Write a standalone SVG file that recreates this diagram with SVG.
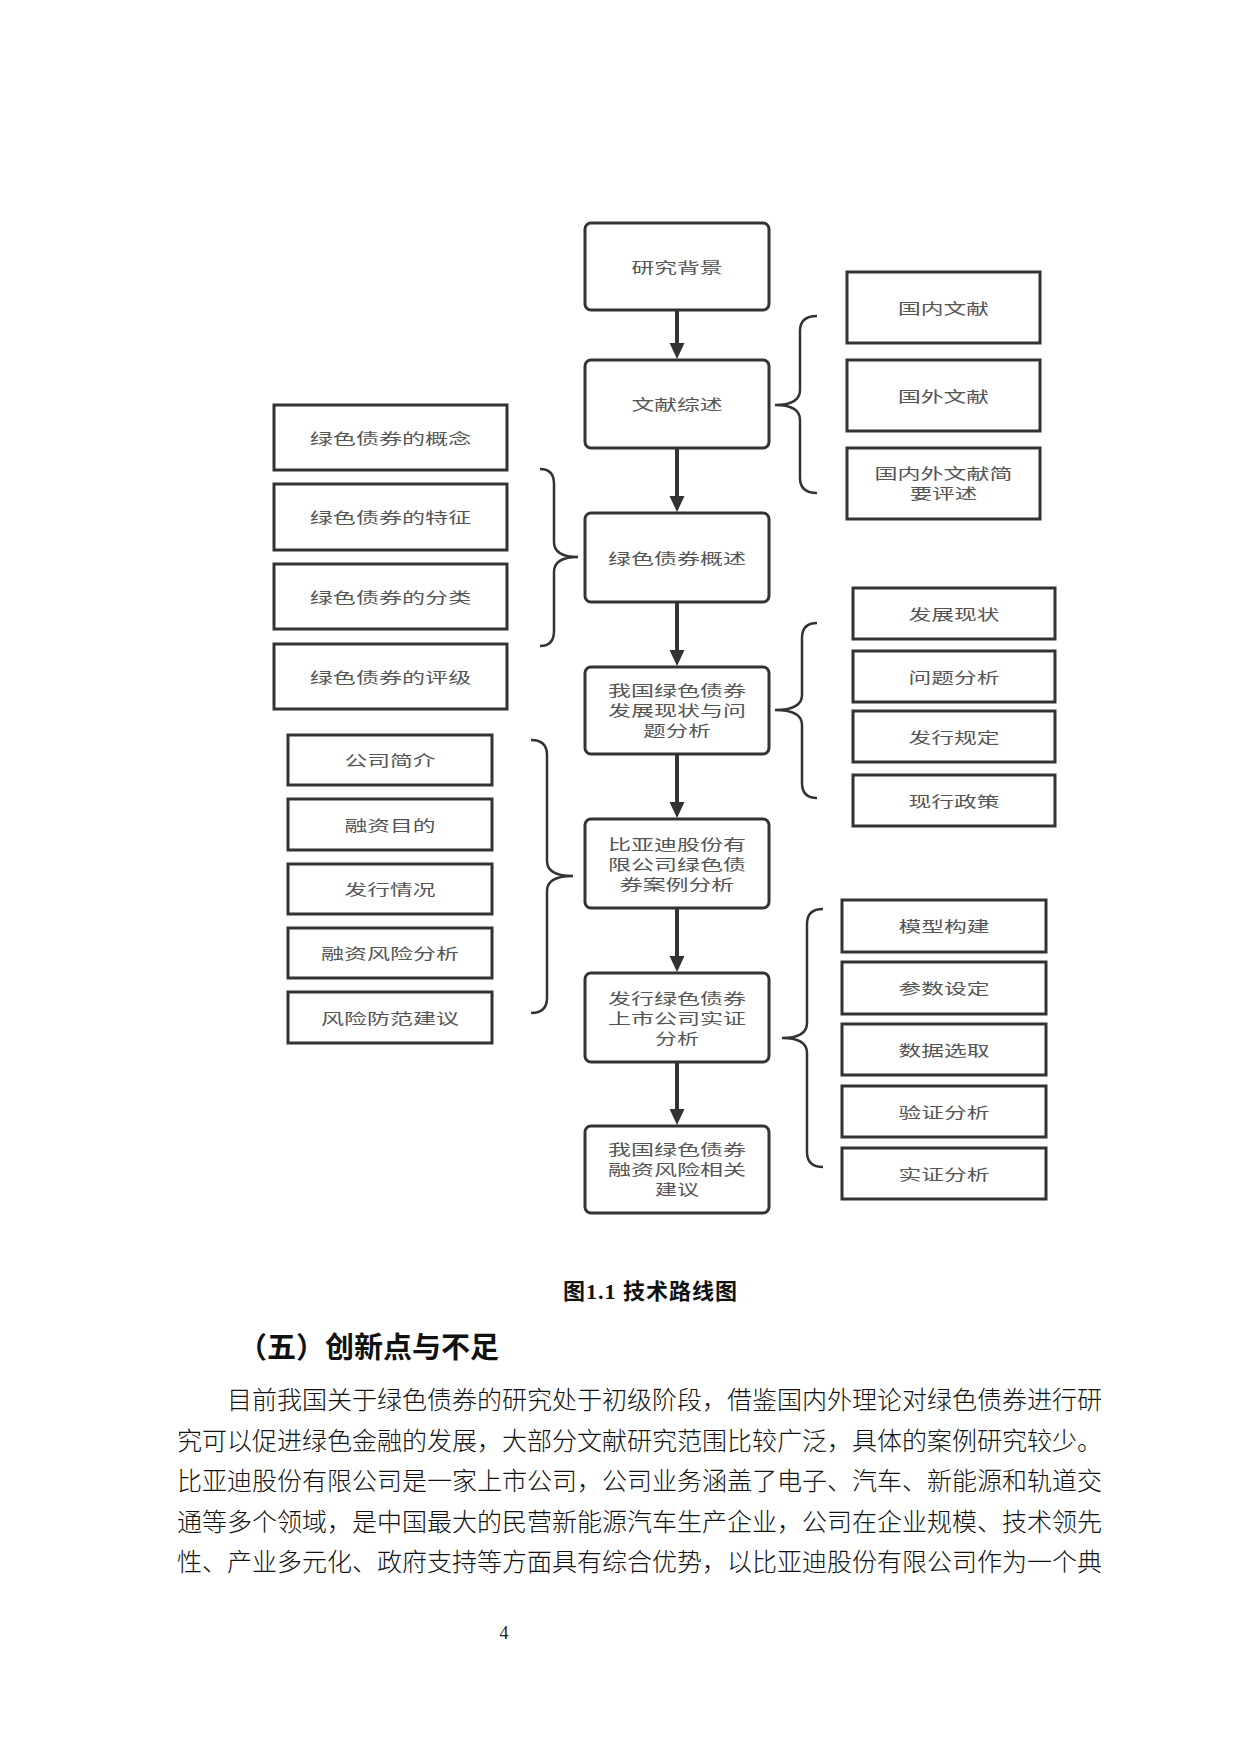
<svg xmlns="http://www.w3.org/2000/svg" width="1240" height="1754" viewBox="0 0 1240 1754">
<style>
.bg{fill:#ffffff}
.main{fill:#ffffff;stroke:#333333;stroke-width:3}
.side{fill:#ffffff;stroke:#333333;stroke-width:3}
.lbl{font-family:"Noto Sans CJK SC","Noto Sans",sans-serif;font-size:15px;fill:#555555;text-anchor:middle}
.arrow{stroke:#333333;stroke-width:4;fill:none}
.brace{stroke:#333333;stroke-width:2.5;fill:none}
.body{font-family:"Noto Sans CJK SC",sans-serif;font-size:25px;fill:#111111;font-weight:300}
.head{font-family:"Noto Sans CJK SC",sans-serif;font-size:29px;fill:#111111;font-weight:bold}
.cap{font-family:"Liberation Serif","Noto Sans CJK SC",serif;font-size:22px;fill:#111111;font-weight:bold;text-anchor:middle}
.pg{font-family:"Liberation Serif",serif;font-size:18px;fill:#222222;text-anchor:middle}
</style>
<defs>
<marker id="ah" viewBox="0 0 16 16" markerWidth="16" markerHeight="16" refX="6" refY="8" orient="auto" markerUnits="userSpaceOnUse">
<path d="M0,0.5 L16,8 L0,15.5 z" fill="#333333"/>
</marker>
</defs>
<rect class="bg" x="0" y="0" width="1240" height="1754"/>

<g id="connectors">
<line class="arrow" x1="677" y1="311" x2="677" y2="349" marker-end="url(#ah)"/>
<line class="arrow" x1="677" y1="449" x2="677" y2="502" marker-end="url(#ah)"/>
<line class="arrow" x1="677" y1="603" x2="677" y2="656" marker-end="url(#ah)"/>
<line class="arrow" x1="677" y1="755" x2="677" y2="808" marker-end="url(#ah)"/>
<line class="arrow" x1="677" y1="909" x2="677" y2="962" marker-end="url(#ah)"/>
<line class="arrow" x1="677" y1="1063" x2="677" y2="1115" marker-end="url(#ah)"/>
<path class="brace" d="M817,316 Q800,316 800,331 L800,390 Q800,405 775,405 Q800,405 800,420 L800,478 Q800,493 817,493"/>
<path class="brace" d="M540,469 Q554,469 554,484 L554,542 Q554,557 578,557 Q554,557 554,572 L554,631 Q554,646 540,646"/>
<path class="brace" d="M817,623 Q802,623 802,638 L802,695 Q802,710 775,710 Q802,710 802,725 L802,783 Q802,798 817,798"/>
<path class="brace" d="M531,740 Q547,740 547,755 L547,861 Q547,876 573,876 Q547,876 547,891 L547,998 Q547,1013 531,1013"/>
<path class="brace" d="M823,909 Q807,909 807,924 L807,1023 Q807,1038 782,1038 Q807,1038 807,1053 L807,1152 Q807,1167 823,1167"/>
</g>

<g id="n1"><rect class="main" x="585" y="223" width="184" height="87" rx="6"/><text class="lbl" x="677" y="272.5" textLength="91" lengthAdjust="spacingAndGlyphs">研究背景</text></g>
<g id="n2"><rect class="main" x="585" y="360" width="184" height="88" rx="6"/><text class="lbl" x="677" y="410" textLength="91" lengthAdjust="spacingAndGlyphs">文献综述</text></g>
<g id="n3"><rect class="main" x="585" y="513" width="184" height="89" rx="6"/><text class="lbl" x="677" y="563.5" textLength="138" lengthAdjust="spacingAndGlyphs">绿色债券概述</text></g>
<g id="n4"><rect class="main" x="585" y="667" width="184" height="87" rx="6"/>
<text class="lbl" x="677" y="696" textLength="138" lengthAdjust="spacingAndGlyphs">我国绿色债券</text>
<text class="lbl" x="677" y="716" textLength="138" lengthAdjust="spacingAndGlyphs">发展现状与问</text>
<text class="lbl" x="677" y="736" textLength="67.5" lengthAdjust="spacingAndGlyphs">题分析</text></g>
<g id="n5"><rect class="main" x="585" y="819" width="184" height="89" rx="6"/>
<text class="lbl" x="677" y="850" textLength="138" lengthAdjust="spacingAndGlyphs">比亚迪股份有</text>
<text class="lbl" x="677" y="870" textLength="138" lengthAdjust="spacingAndGlyphs">限公司绿色债</text>
<text class="lbl" x="677" y="890" textLength="114.5" lengthAdjust="spacingAndGlyphs">券案例分析</text></g>
<g id="n6"><rect class="main" x="585" y="973" width="184" height="89" rx="6"/>
<text class="lbl" x="677" y="1004" textLength="138" lengthAdjust="spacingAndGlyphs">发行绿色债券</text>
<text class="lbl" x="677" y="1024" textLength="138" lengthAdjust="spacingAndGlyphs">上市公司实证</text>
<text class="lbl" x="677" y="1044" textLength="44" lengthAdjust="spacingAndGlyphs">分析</text></g>
<g id="n7"><rect class="main" x="585" y="1126" width="184" height="87" rx="6"/>
<text class="lbl" x="677" y="1155" textLength="138" lengthAdjust="spacingAndGlyphs">我国绿色债券</text>
<text class="lbl" x="677" y="1175" textLength="138" lengthAdjust="spacingAndGlyphs">融资风险相关</text>
<text class="lbl" x="677" y="1195" textLength="44" lengthAdjust="spacingAndGlyphs">建议</text></g>

<g id="r1"><rect class="side" x="847" y="272" width="193" height="71"/><text class="lbl" x="943.5" y="313.5" textLength="91" lengthAdjust="spacingAndGlyphs">国内文献</text></g>
<g id="r2"><rect class="side" x="847" y="360" width="193" height="71"/><text class="lbl" x="943.5" y="401.5" textLength="91" lengthAdjust="spacingAndGlyphs">国外文献</text></g>
<g id="r3"><rect class="side" x="847" y="448" width="193" height="71"/>
<text class="lbl" x="943.5" y="479" textLength="138" lengthAdjust="spacingAndGlyphs">国内外文献简</text>
<text class="lbl" x="943.5" y="499" textLength="67.5" lengthAdjust="spacingAndGlyphs">要评述</text></g>

<g id="l1"><rect class="side" x="274" y="405" width="233" height="65"/><text class="lbl" x="390.5" y="443.5" textLength="161.5" lengthAdjust="spacingAndGlyphs">绿色债券的概念</text></g>
<g id="l2"><rect class="side" x="274" y="484" width="233" height="66"/><text class="lbl" x="390.5" y="523" textLength="161.5" lengthAdjust="spacingAndGlyphs">绿色债券的特征</text></g>
<g id="l3"><rect class="side" x="274" y="564" width="233" height="65"/><text class="lbl" x="390.5" y="602.5" textLength="161.5" lengthAdjust="spacingAndGlyphs">绿色债券的分类</text></g>
<g id="l4"><rect class="side" x="274" y="644" width="233" height="65"/><text class="lbl" x="390.5" y="682.5" textLength="161.5" lengthAdjust="spacingAndGlyphs">绿色债券的评级</text></g>

<g id="r4"><rect class="side" x="853" y="588" width="202" height="51"/><text class="lbl" x="954" y="619.5" textLength="91" lengthAdjust="spacingAndGlyphs">发展现状</text></g>
<g id="r5"><rect class="side" x="853" y="651" width="202" height="51"/><text class="lbl" x="954" y="682.5" textLength="91" lengthAdjust="spacingAndGlyphs">问题分析</text></g>
<g id="r6"><rect class="side" x="853" y="711" width="202" height="51"/><text class="lbl" x="954" y="742.5" textLength="91" lengthAdjust="spacingAndGlyphs">发行规定</text></g>
<g id="r7"><rect class="side" x="853" y="775" width="202" height="51"/><text class="lbl" x="954" y="806.5" textLength="91" lengthAdjust="spacingAndGlyphs">现行政策</text></g>

<g id="l5"><rect class="side" x="288" y="735" width="204" height="50"/><text class="lbl" x="390" y="766" textLength="91" lengthAdjust="spacingAndGlyphs">公司简介</text></g>
<g id="l6"><rect class="side" x="288" y="799" width="204" height="51"/><text class="lbl" x="390" y="830.5" textLength="91" lengthAdjust="spacingAndGlyphs">融资目的</text></g>
<g id="l7"><rect class="side" x="288" y="864" width="204" height="50"/><text class="lbl" x="390" y="895" textLength="91" lengthAdjust="spacingAndGlyphs">发行情况</text></g>
<g id="l8"><rect class="side" x="288" y="928" width="204" height="50"/><text class="lbl" x="390" y="959" textLength="138" lengthAdjust="spacingAndGlyphs">融资风险分析</text></g>
<g id="l9"><rect class="side" x="288" y="992" width="204" height="51"/><text class="lbl" x="390" y="1023.5" textLength="138" lengthAdjust="spacingAndGlyphs">风险防范建议</text></g>

<g id="r8"><rect class="side" x="842" y="900" width="204" height="52"/><text class="lbl" x="944" y="932" textLength="91" lengthAdjust="spacingAndGlyphs">模型构建</text></g>
<g id="r9"><rect class="side" x="842" y="962" width="204" height="52"/><text class="lbl" x="944" y="994" textLength="91" lengthAdjust="spacingAndGlyphs">参数设定</text></g>
<g id="r10"><rect class="side" x="842" y="1024" width="204" height="51"/><text class="lbl" x="944" y="1055.5" textLength="91" lengthAdjust="spacingAndGlyphs">数据选取</text></g>
<g id="r11"><rect class="side" x="842" y="1086" width="204" height="51"/><text class="lbl" x="944" y="1117.5" textLength="91" lengthAdjust="spacingAndGlyphs">验证分析</text></g>
<g id="r12"><rect class="side" x="842" y="1148" width="204" height="51"/><text class="lbl" x="944" y="1179.5" textLength="91" lengthAdjust="spacingAndGlyphs">实证分析</text></g>

<text class="cap" x="650" y="1299" textLength="174" lengthAdjust="spacing">图1.1 技术路线图</text>
<text class="head" x="238" y="1358">（五）创新点与不足</text>
<text class="body" x="227" y="1409">目前我国关于绿色债券的研究处于初级阶段，借鉴国内外理论对绿色债券进行研</text>
<text class="body" x="177" y="1449.5">究可以促进绿色金融的发展，大部分文献研究范围比较广泛，具体的案例研究较少。</text>
<text class="body" x="177" y="1490">比亚迪股份有限公司是一家上市公司，公司业务涵盖了电子、汽车、新能源和轨道交</text>
<text class="body" x="177" y="1530.5">通等多个领域，是中国最大的民营新能源汽车生产企业，公司在企业规模、技术领先</text>
<text class="body" x="177" y="1571">性、产业多元化、政府支持等方面具有综合优势，以比亚迪股份有限公司作为一个典</text>
<text class="pg" x="504" y="1639">4</text>
</svg>
